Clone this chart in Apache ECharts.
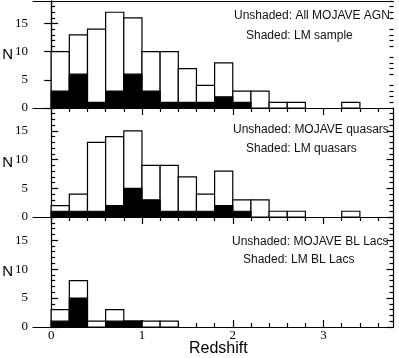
<!DOCTYPE html>
<html>
<head>
<meta charset="utf-8">
<script src="https://cdn.jsdelivr.net/npm/echarts@6/dist/echarts.min.js"></script>
<style>
  html, body { margin: 0; padding: 0; background: #fff; }
  #chart { width: 399px; height: 358px; }
</style>
</head>
<body>
<div id="chart"></div>
<script>
// left edges of the redshift bins (width 0.2)
var binLeft = [0, 0.2, 0.4, 0.6, 0.8, 1.0, 1.2, 1.4, 1.6, 1.8, 2.0, 2.2, 2.4, 2.6, 2.8, 3.0, 3.2];
var binWidth = 0.2;

// panel 1: all MOJAVE AGN / LM sample
var allAgn    = [10, 13, 14, 17, 16, 10, 10, 7, 4, 8, 3, 3, 1, 1, 0, 0, 1];
var lmSample  = [3, 6, 1, 3, 6, 3, 1, 1, 1, 2, 1, 0, 0, 0, 0, 0, 0];
// panel 2: quasars
var quasars   = [2, 4, 13, 14, 15, 9, 9, 7, 4, 8, 3, 3, 1, 1, 0, 0, 1];
var lmQuasars = [1, 1, 1, 2, 5, 3, 1, 1, 1, 2, 1, 0, 0, 0, 0, 0, 0];
// panel 3: BL Lacs
var blLacs    = [3, 8, 1, 3, 1, 1, 1, 0, 0, 0, 0, 0, 0, 0, 0, 0, 0];
var lmBlLacs  = [1, 5, 0, 1, 1, 0, 0, 0, 0, 0, 0, 0, 0, 0, 0, 0, 0];

var xMajorTicks = [0, 1, 2, 3];
var xMinorTicks = [0.2, 0.4, 0.6, 0.8, 1.2, 1.4, 1.6, 1.8, 2.2, 2.4, 2.6, 2.8, 3.2, 3.4, 3.6];
var yMajorTicks = [0, 5, 10, 15];
var yMinorTicks = [1, 2, 3, 4, 6, 7, 8, 9, 11, 12, 13, 14, 16, 17, 18, 19];

var panels = [
  { total: allAgn,  shaded: lmSample,  top: 1,   height: 107,
    label1: 'Unshaded: All MOJAVE AGN', label2: 'Shaded: LM sample' },
  { total: quasars, shaded: lmQuasars, top: 108, height: 109,
    label1: 'Unshaded: MOJAVE quasars', label2: 'Shaded: LM quasars' },
  { total: blLacs,  shaded: lmBlLacs,  top: 217, height: 110,
    label1: 'Unshaded: MOJAVE BL Lacs', label2: 'Shaded: LM BL Lacs' }
];
var labelPos = [
  [234, 17, 246, 37],
  [233, 131, 246, 150],
  [232, 243, 243, 261]
];

var myChart = echarts.init(document.getElementById('chart'));

function lineStyle() { return { color: '#000', width: 1.2 }; }

function histItem(fill) {
  return function (params, api) {
    var n = api.value(2);
    if (!n) return null;
    var p0 = api.coord([api.value(0), n]);
    var p1 = api.coord([api.value(1), 0]);
    return {
      type: 'rect',
      shape: { x: p0[0], y: p0[1], width: p1[0] - p0[0], height: p1[1] - p0[1] },
      style: { fill: fill, stroke: '#000', lineWidth: 1.2 }
    };
  };
}

function toData(counts) {
  return binLeft.map(function (x, i) { return [x, x + binWidth, counts[i]]; });
}

var grids = [], xAxes = [], yAxes = [], series = [], graphics = [];

panels.forEach(function (p, g) {
  grids.push({ left: 33, right: 5.5, top: p.top, height: p.height, outerBoundsMode: 'none' });

  // x axis: major + minor ticks along the zero line
  xAxes.push({
    gridIndex: g, type: 'value', min: -0.2, max: 3.77, position: 'bottom',
    axisLine: { show: true, onZero: false, lineStyle: lineStyle() },
    axisTick: { show: true, inside: g === 2, length: 7, customValues: xMajorTicks, lineStyle: lineStyle() },
    axisLabel: { show: g === 2, customValues: xMajorTicks, margin: 2,
      color: '#000', fontFamily: 'Liberation Serif', fontSize: 13 },
    splitLine: { show: false }
  });
  xAxes.push({
    gridIndex: g, type: 'value', min: -0.2, max: 3.77, position: 'bottom',
    axisLine: { show: false },
    axisTick: { show: true, inside: g === 2, length: 4, customValues: xMinorTicks, lineStyle: lineStyle() },
    axisLabel: { show: false },
    splitLine: { show: false }
  });

  ['left', 'right'].forEach(function (side) {
    yAxes.push({
      gridIndex: g, type: 'value', min: 0, max: 19, position: side,
      name: side === 'left' ? 'N' : '',
      nameLocation: 'middle', nameRotate: 0, nameGap: 20, nameMoveOverlap: false,
      nameTextStyle: { color: '#000', fontFamily: 'Liberation Sans', fontSize: 15 },
      axisLine: { show: true, lineStyle: lineStyle() },
      axisTick: { show: true, inside: true, length: 7, customValues: yMajorTicks, lineStyle: lineStyle() },
      axisLabel: { show: side === 'left', customValues: yMajorTicks, margin: 5,
        color: '#000', fontFamily: 'Liberation Serif', fontSize: 13 },
      splitLine: { show: false }
    });
    yAxes.push({
      gridIndex: g, type: 'value', min: 0, max: 19, position: side,
      axisLine: { show: false },
      axisTick: { show: true, inside: true, length: 4, customValues: yMinorTicks, lineStyle: lineStyle() },
      axisLabel: { show: false },
      splitLine: { show: false }
    });
  });

  series.push({
    type: 'custom', xAxisIndex: 2 * g, yAxisIndex: 4 * g,
    renderItem: histItem('#fff'), data: toData(p.total),
    encode: { x: [0, 1], y: 2 }, silent: true
  });
  series.push({
    type: 'custom', xAxisIndex: 2 * g, yAxisIndex: 4 * g,
    renderItem: histItem('#000'), data: toData(p.shaded),
    encode: { x: [0, 1], y: 2 }, silent: true
  });

  var lp = labelPos[g];
  graphics.push({ type: 'text', left: lp[0], top: lp[1] - 7,
    style: { text: p.label1, fill: '#111', font: '12px "Liberation Sans"' } });
  graphics.push({ type: 'text', left: lp[2], top: lp[3] - 7,
    style: { text: p.label2, fill: '#111', font: '12px "Liberation Sans"' } });
});

// top border of the first panel
xAxes.push({
  gridIndex: 0, type: 'value', min: -0.2, max: 3.77, position: 'top',
  axisLine: { show: true, onZero: false, lineStyle: lineStyle() },
  axisTick: { show: false }, axisLabel: { show: false }, splitLine: { show: false }
});

graphics.push({ type: 'text', left: 189, top: 341,
  style: { text: 'Redshift', fill: '#000', font: '16px "Liberation Sans"' } });

option = {
  animation: false,
  backgroundColor: '#fff',
  grid: grids,
  xAxis: xAxes,
  yAxis: yAxes,
  series: series,
  graphic: graphics
};

myChart.setOption(option);
</script>
</body>
</html>
